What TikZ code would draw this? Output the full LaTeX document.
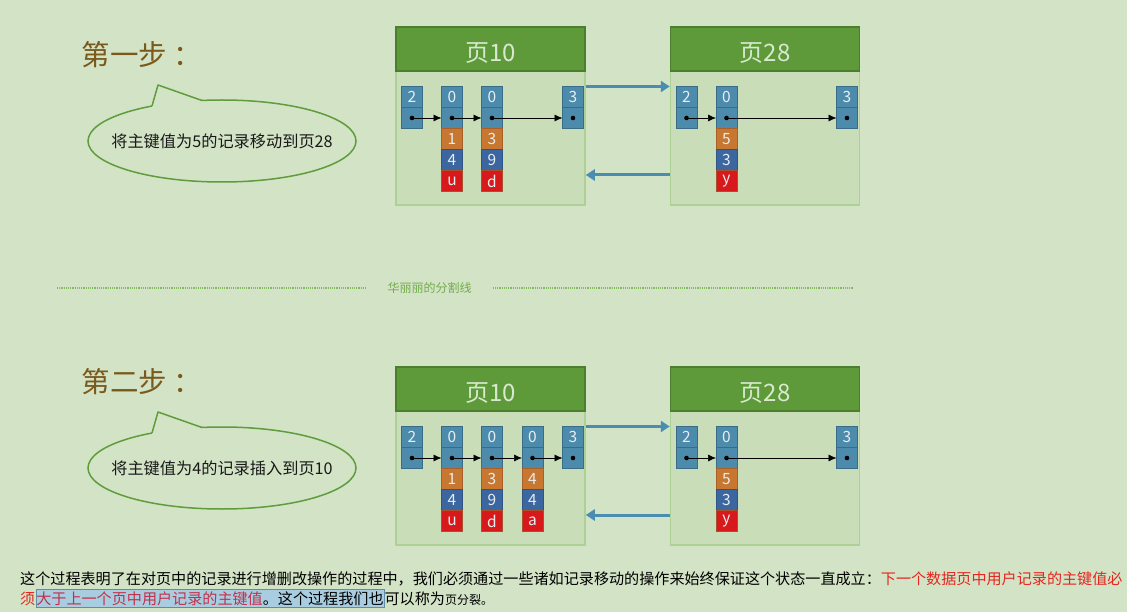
\documentclass[tikz,border=0pt]{standalone}
\usepackage{fontspec}
\setmainfont{Noto Sans CJK SC}
\usetikzlibrary{positioning,arrows.meta,calc}

\definecolor{bg}{HTML}{D3E3C6}
\definecolor{pagebody}{HTML}{C8DDB8}
\definecolor{pageline}{HTML}{ACD095}
\definecolor{headgreen}{HTML}{5E9A3A}
\definecolor{headline}{HTML}{4B7F2D}
\definecolor{headtext}{HTML}{D8E9CF}
\definecolor{cellteal}{HTML}{4C8BAB}
\definecolor{celledge}{HTML}{3A6C87}
\definecolor{cellorange}{HTML}{C7772F}
\definecolor{orangeedge}{HTML}{A86028}
\definecolor{cellblue}{HTML}{3B66A0}
\definecolor{blueedge}{HTML}{2E5585}
\definecolor{cellred}{HTML}{D7191B}
\definecolor{rededge}{HTML}{A9502C}
\definecolor{celltext}{HTML}{E8EEF0}
\definecolor{arrowteal}{HTML}{4A8DB0}
\definecolor{talkline}{HTML}{5E9C3C}
\definecolor{titlebrown}{HTML}{7A5A1C}
\definecolor{divgreen}{HTML}{86BB64}
\definecolor{divtext}{HTML}{72AC4C}
\definecolor{noteRed}{HTML}{E5261F}
\definecolor{markRed}{HTML}{C0304A}
\definecolor{markBlue}{HTML}{A9CDE0}
\definecolor{markEdge}{HTML}{5F8DA8}

\begin{document}
\begin{tikzpicture}[
  x = 1pt, y = -1pt,
  page/.style = {
    rectangle, fill=pagebody, draw=pageline, line width=1.5pt,
    minimum width=189pt, minimum height=178pt, inner sep=0pt
  },
  head/.style = {
    rectangle, fill=headgreen, draw=headline, line width=1.5pt,
    minimum width=189pt, minimum height=44pt, inner sep=0pt,
    text height=25pt, text depth=0pt,
    text=headtext, font=\fontsize{24}{24}\selectfont
  },
  cell/.style = {
    rectangle, fill=cellteal, draw=celledge, line width=1pt,
    minimum size=21pt, inner sep=0pt, outer sep=0pt,
    text=celltext, font=\fontsize{15.5}{15.5}\selectfont
  },
  keycell/.style  = {cell, fill=cellorange, draw=orangeedge},
  valcell/.style  = {cell, fill=cellblue, draw=blueedge},
  namecell/.style = {cell, fill=cellred, draw=rededge},
  link/.style = {-{Latex[length=8pt,width=7pt]}, line width=0.6pt},
  move/.style = {-{Triangle[length=9pt,width=11pt]}, line width=3pt, draw=arrowteal},
  talk/.style = {fill=bg, draw=talkline, line width=1.5pt},
  saytext/.style = {text=black!90, font=\fontsize{16.2}{16}\selectfont},
  steptitle/.style = {anchor=west, text=titlebrown, font=\fontsize{28.5}{28}\selectfont},
  note/.style = {anchor=base west, inner sep=0pt, font=\fontsize{15.1}{18}\selectfont}
]
  % Hintergrund
  \fill[bg] (0,0) rectangle (1127,612);
  \useasboundingbox (0,0) rectangle (1127,612);

  % Schritt 1
  \node[steptitle] (t1) at (78,55) {第一步\hspace{6pt}：};
  \coordinate (say1) at (222,141);
  \draw[talk] (say1) ellipse (134 and 41);
  \fill[bg] ($(say1)+(-70,-35)$) -- ($(say1)+(-64,-56)$) -- ($(say1)+(-20,-40.5)$)
    -- ($(say1)+(-20,-36)$) -- ($(say1)+(-70,-30)$) -- cycle;
  \draw[talkline, line width=1.5pt, line join=round]
    ($(say1)+(-70,-35)$) -- ($(say1)+(-64,-56)$) -- ($(say1)+(-20,-40.5)$);
  \node[saytext] (say1t) at (say1) {将主键值为5的记录移动到页28};

  \node[page] (pa) at (490.5,116) {};
  \node[head] (ha) at (490.5,49) {页10};
  \node[page] (pb) at (765,116) {};
  \node[head] (hb) at (765,49) {页28};

  \node[cell] (aInf) at (412,97) {2};
  \node[cell, below=0pt of aInf] (aInfp) {};
  \node[cell] (a1) at (452,97) {0};
  \node[cell, below=0pt of a1] (a1p) {};
  \node[keycell, below=0pt of a1p] (a1k) {1};
  \node[valcell, below=0pt of a1k] (a1v) {4};
  \node[namecell, below=0pt of a1v] (a1n) {u};
  \node[cell] (a3) at (492,97) {0};
  \node[cell, below=0pt of a3] (a3p) {};
  \node[keycell, below=0pt of a3p] (a3k) {3};
  \node[valcell, below=0pt of a3k] (a3v) {9};
  \node[namecell, below=0pt of a3v] (a3n) {d};
  \node[cell] (aSup) at (573,97) {3};
  \node[cell, below=0pt of aSup] (aSupp) {};

  \node[cell] (bInf) at (686.5,97) {2};
  \node[cell, below=0pt of bInf] (bInfp) {};
  \node[cell] (b5) at (726.5,97) {0};
  \node[cell, below=0pt of b5] (b5p) {};
  \node[keycell, below=0pt of b5p] (b5k) {5};
  \node[valcell, below=0pt of b5k] (b5v) {3};
  \node[namecell, below=0pt of b5v] (b5n) {y};
  \node[cell] (bSup) at (847,97) {3};
  \node[cell, below=0pt of bSup] (bSupp) {};

  \foreach \n in {aInfp,a1p,a3p,aSupp,bInfp,b5p,bSupp}
    \fill (\n) circle (2.3pt);
  \draw[link] (aInfp.center) -- (a1p.west);
  \draw[link] (a1p.center) -- (a3p.west);
  \draw[link] (a3p.center) -- (aSupp.west);
  \draw[link] (bInfp.center) -- (b5p.west);
  \draw[link] (b5p.center) -- (bSupp.west);

  \draw[move] (pa.east |- aSup.north) -- (pb.west |- aSup.north);
  \draw[move] ([yshift=-59pt]pb.west) -- ([yshift=-59pt]pa.east);

  % Trennlinie
  \node[text=divtext, inner xsep=21pt, font=\fontsize{12}{12}\selectfont] (cut) at (429.5,288) {华丽丽的分割线};
  \coordinate (cutL) at (57,288);
  \coordinate (cutR) at (853,288);
  \draw[divgreen, densely dotted, line width=1.2pt] (cutL) -- (cut.west);
  \draw[divgreen, densely dotted, line width=1.2pt] (cut.east) -- (cutR);

  % Schritt 2
  \node[steptitle] (t2) at (78,382) {第二步\hspace{6pt}：};
  \coordinate (say2) at (222,468);
  \draw[talk] (say2) ellipse (134 and 41);
  \fill[bg] ($(say2)+(-70,-35)$) -- ($(say2)+(-64,-56)$) -- ($(say2)+(-20,-40.5)$)
    -- ($(say2)+(-20,-36)$) -- ($(say2)+(-70,-30)$) -- cycle;
  \draw[talkline, line width=1.5pt, line join=round]
    ($(say2)+(-70,-35)$) -- ($(say2)+(-64,-56)$) -- ($(say2)+(-20,-40.5)$);
  \node[saytext] (say2t) at (say2) {将主键值为4的记录插入到页10};

  \node[page] (pc) at (490.5,456) {};
  \node[head] (hc) at (490.5,389) {页10};
  \node[page] (pd) at (765,456) {};
  \node[head] (hd) at (765,389) {页28};

  \node[cell] (cInf) at (412,437) {2};
  \node[cell, below=0pt of cInf] (cInfp) {};
  \node[cell] (c1) at (452,437) {0};
  \node[cell, below=0pt of c1] (c1p) {};
  \node[keycell, below=0pt of c1p] (c1k) {1};
  \node[valcell, below=0pt of c1k] (c1v) {4};
  \node[namecell, below=0pt of c1v] (c1n) {u};
  \node[cell] (c3) at (492,437) {0};
  \node[cell, below=0pt of c3] (c3p) {};
  \node[keycell, below=0pt of c3p] (c3k) {3};
  \node[valcell, below=0pt of c3k] (c3v) {9};
  \node[namecell, below=0pt of c3v] (c3n) {d};
  \node[cell] (c4) at (532.5,437) {0};
  \node[cell, below=0pt of c4] (c4p) {};
  \node[keycell, below=0pt of c4p] (c4k) {4};
  \node[valcell, below=0pt of c4k] (c4v) {4};
  \node[namecell, below=0pt of c4v] (c4n) {a};
  \node[cell] (cSup) at (573,437) {3};
  \node[cell, below=0pt of cSup] (cSupp) {};

  \node[cell] (dInf) at (686.5,437) {2};
  \node[cell, below=0pt of dInf] (dInfp) {};
  \node[cell] (d5) at (726.5,437) {0};
  \node[cell, below=0pt of d5] (d5p) {};
  \node[keycell, below=0pt of d5p] (d5k) {5};
  \node[valcell, below=0pt of d5k] (d5v) {3};
  \node[namecell, below=0pt of d5v] (d5n) {y};
  \node[cell] (dSup) at (847,437) {3};
  \node[cell, below=0pt of dSup] (dSupp) {};

  \foreach \n in {cInfp,c1p,c3p,c4p,cSupp,dInfp,d5p,dSupp}
    \fill (\n) circle (2.3pt);
  \draw[link] (cInfp.center) -- (c1p.west);
  \draw[link] (c1p.center) -- (c3p.west);
  \draw[link] (c3p.center) -- (c4p.west);
  \draw[link] (c4p.center) -- (cSupp.west);
  \draw[link] (dInfp.center) -- (d5p.west);
  \draw[link] (d5p.center) -- (dSupp.west);

  \draw[move] (pc.east |- cSup.north) -- (pd.west |- cSup.north);
  \draw[move] ([yshift=-59pt]pd.west) -- ([yshift=-59pt]pc.east);

  % Text unten
  \node[note] (l1) at (20,584) {这个过程表明了在对页中的记录进行增删改操作的过程中，我们必须通过一些诸如记录移动的操作来始终保证这个状态一直成立：\textcolor{noteRed}{下一个数据页中用户记录的主键值必}};
  \node[note, text=noteRed] (l2a) at (20,604) {须};
  \node[note, fill=markBlue, draw=markEdge, line width=0.6pt, inner ysep=2pt, inner xsep=0.5pt, anchor=base west] (l2b) at (l2a.base east) {\textcolor{markRed}{大于上一个页中用户记录的主键值}。这个过程我们也};
  \node[note] (l2c) at (l2b.base east) {可以称为{\fontsize{12}{14}\selectfont 页分裂。}};
\end{tikzpicture}
\end{document}
